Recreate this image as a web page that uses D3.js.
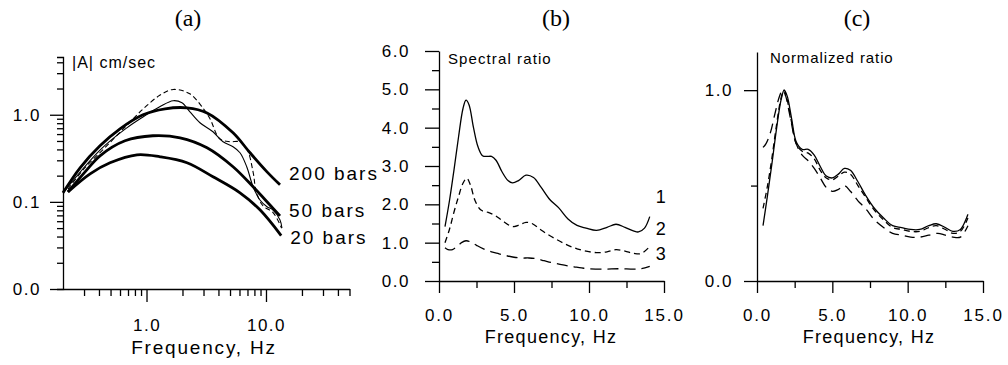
<!DOCTYPE html>
<html>
<head>
<meta charset="utf-8">
<script src="https://cdn.jsdelivr.net/npm/d3@7"></script>
<style>
  body { margin: 0; background: #fff; }
  svg { display: block; background: #fff; }
  text { font-family: "Liberation Sans", Arial, Helvetica, sans-serif; fill: #000; }
</style>
</head>
<body>
<svg id="chart" width="1008" height="365"></svg>
<script>
// ---------- data ----------
// (a) amplitude spectra: [frequency Hz, |A| cm/sec]
const observed = [[0.2,0.127],[0.41,0.396],[0.68,0.703],[0.94,0.948],[1.3,1.24],[1.67,1.45],[1.98,1.37],[2.31,1.08],[2.8,0.81],[3.6,0.638],[4.37,0.49],[5.3,0.429],[6.06,0.366],[6.9,0.253],[7.8,0.149],[8.9,0.105],[10.2,0.088],[11.4,0.081],[13.1,0.062],[13.6,0.05]];
const observedAlt = [[0.22,0.14],[0.3,0.24],[0.45,0.42],[0.68,0.75],[0.94,1.17],[1.29,1.67],[1.67,1.95],[2.3,1.74],[3.0,1.17],[3.4,0.9],[4.1,0.53],[5.0,0.49],[6.0,0.49],[6.9,0.41],[7.8,0.22],[8.3,0.13],[9.45,0.09],[11.5,0.075],[13.5,0.05]];
const model200 = [[0.2,0.127],[0.278,0.246],[0.408,0.44],[0.6,0.69],[0.935,1.0],[1.43,1.17],[2.18,1.2],[3.21,1.05],[5.3,0.62],[7.35,0.366],[10.2,0.221],[13.1,0.157]];
const model50 = [[0.22,0.13],[0.306,0.221],[0.408,0.338],[0.661,0.503],[1.13,0.574],[1.91,0.544],[3.21,0.418],[5.3,0.253],[7.8,0.149],[10.8,0.092],[13.1,0.069]];
const model20 = [[0.22,0.13],[0.337,0.21],[0.495,0.281],[0.833,0.347],[1.3,0.329],[2.18,0.281],[3.6,0.194],[6.06,0.127],[8.9,0.081],[13.4,0.041]];
const modelNames = ["200 bars", "50 bars", "20 bars"];

// (b) spectral ratios: [frequency Hz, ratio]
const ratio1 = [[0.4,1.42],[0.7,2.1],[1.0,2.9],[1.3,3.75],[1.6,4.5],[1.8,4.72],[2.0,4.6],[2.3,4.0],[2.6,3.5],[2.9,3.27],[3.2,3.25],[3.5,3.25],[3.8,3.15],[4.2,2.85],[4.6,2.62],[4.9,2.56],[5.3,2.62],[5.8,2.76],[6.3,2.7],[6.8,2.45],[7.4,2.12],[8.0,1.9],[8.6,1.62],[9.2,1.45],[9.8,1.38],[10.5,1.32],[11.2,1.4],[11.8,1.48],[12.4,1.4],[13.0,1.3],[13.3,1.28],[13.7,1.38],[14.05,1.68]];
const ratio2 = [[0.4,1.0],[0.7,1.35],[1.0,1.8],[1.3,2.2],[1.6,2.55],[1.85,2.68],[2.1,2.5],[2.4,2.1],[2.8,1.85],[3.2,1.8],[3.7,1.72],[4.2,1.58],[4.7,1.45],[5.0,1.42],[5.4,1.47],[5.8,1.53],[6.2,1.5],[6.8,1.33],[7.4,1.18],[8.0,1.05],[8.6,0.93],[9.2,0.84],[9.8,0.78],[10.5,0.74],[11.2,0.76],[11.8,0.82],[12.4,0.78],[13.0,0.72],[13.5,0.72],[14.05,0.9]];
const ratio3 = [[0.4,0.87],[0.6,0.82],[0.9,0.82],[1.2,0.9],[1.5,1.0],[1.8,1.05],[2.1,1.02],[2.5,0.93],[3.0,0.83],[3.5,0.76],[4.0,0.71],[4.5,0.66],[5.0,0.62],[5.5,0.6],[6.0,0.6],[6.5,0.58],[7.0,0.53],[7.5,0.48],[8.0,0.44],[8.5,0.4],[9.0,0.37],[9.5,0.34],[10.0,0.32],[11.0,0.31],[12.0,0.32],[13.0,0.31],[13.5,0.32],[14.05,0.38]];
const ratioNames = ["1", "2", "3"];

// (c) normalized ratios: [frequency Hz, ratio / peak]
const norm1 = [[0.4,0.29],[0.7,0.45],[1.0,0.62],[1.3,0.8],[1.6,0.95],[1.8,1.0],[2.0,0.97],[2.3,0.85],[2.6,0.73],[3.0,0.69],[3.4,0.69],[3.8,0.66],[4.2,0.6],[4.6,0.55],[5.0,0.54],[5.4,0.56],[5.8,0.59],[6.2,0.58],[6.7,0.52],[7.2,0.45],[7.8,0.38],[8.4,0.33],[9.0,0.29],[9.6,0.28],[10.2,0.27],[10.8,0.27],[11.4,0.29],[11.9,0.3],[12.5,0.28],[13.0,0.26],[13.5,0.27],[14.0,0.35]];
const norm2 = [[0.4,0.38],[0.7,0.5],[1.0,0.65],[1.3,0.82],[1.6,0.96],[1.8,1.0],[2.0,0.95],[2.3,0.83],[2.6,0.72],[3.0,0.68],[3.4,0.67],[3.8,0.64],[4.2,0.58],[4.6,0.54],[5.0,0.53],[5.4,0.55],[5.8,0.57],[6.2,0.56],[6.7,0.5],[7.2,0.44],[7.8,0.37],[8.4,0.32],[9.0,0.28],[9.6,0.27],[10.2,0.26],[10.8,0.26],[11.4,0.28],[11.9,0.29],[12.5,0.27],[13.0,0.25],[13.5,0.26],[14.0,0.33]];
const norm3 = [[0.4,0.7],[0.6,0.72],[0.9,0.78],[1.2,0.88],[1.5,0.97],[1.7,1.0],[1.9,0.97],[2.2,0.86],[2.6,0.72],[3.0,0.66],[3.4,0.63],[3.8,0.59],[4.2,0.54],[4.6,0.49],[5.0,0.47],[5.4,0.48],[5.8,0.5],[6.2,0.47],[6.7,0.42],[7.2,0.38],[7.8,0.32],[8.4,0.28],[9.0,0.25],[9.6,0.24],[10.2,0.23],[10.8,0.23],[11.4,0.24],[12.0,0.25],[12.5,0.24],[13.0,0.23],[13.5,0.23],[14.0,0.29]];

// tick values and labels
const ticksAxMajor = [1, 10], ticksAxLabels = ["1.0", "10.0"];
const ticksAxMinor = [0.3,0.4,0.5,0.6,0.7,0.8,0.9,2,3,4,5,6,7,8,9,20,30,40,50];
const ticksAyMajor = [0.01, 0.1, 1], ticksAyLabels = ["0.0", "0.1", "1.0"];
const ticksAyMinor = [0.02,0.03,0.04,0.05,0.06,0.07,0.08,0.09,0.2,0.3,0.4,0.5,0.6,0.7,0.8,0.9,2,3,4];
const ticksFreq = [0, 5, 10, 15], ticksFreqMinor = [2.5, 7.5, 12.5];
const ticksByMajor = [0, 1, 2, 3, 4, 5, 6], ticksByMinor = [0.5, 1.5, 2.5, 3.5, 4.5, 5.5];
const ticksCyMajor = [0, 1], ticksCyMinor = [0.5];

// ---------- drawing ----------
const svg = d3.select("#chart");
const fmt1 = d3.format(".1f");
const serif = "'Liberation Serif', 'Times New Roman', serif";

function styleAxis(g, size, spacing) {
    g.attr("font-family", null).attr("font-size", null);
    g.selectAll("path, line").attr("stroke", "#000").attr("stroke-width", 1.3);
    g.selectAll("text").style("font-size", size + "px").style("letter-spacing", spacing + "px");
}

function drawLine(x, y, data, width, dash) {
    svg.append("path")
        .datum(data)
        .attr("fill", "none")
        .attr("stroke", "#000")
        .attr("stroke-width", width)
        .attr("stroke-dasharray", dash || null)
        .attr("stroke-linejoin", "round")
        .attr("d", d3.line().x(d => x(d[0])).y(d => y(d[1])).curve(d3.curveCatmullRom.alpha(0.5)));
}

function label(x, y, txt, opts) {
    return svg.append("text")
        .attr("x", x).attr("y", y).attr("dy", "0.35em")
        .attr("text-anchor", opts.anchor || "start")
        .style("font-size", opts.size + "px")
        .style("letter-spacing", (opts.spacing || 0) + "px")
        .style("font-family", opts.family || null)
        .text(txt);
}

// ===== panel (a) =====
const xA = d3.scaleLog().domain([0.2, 50]).range([63, 349.5]);
const yA = d3.scaleLog().domain([0.01, 4.6]).range([289, 57]);

svg.append("g").attr("transform", "translate(0,289)")
    .call(d3.axisBottom(xA).tickValues(ticksAxMinor).tickSize(7).tickSizeOuter(0).tickFormat(""))
    .call(g => styleAxis(g, 17, 1.5));
svg.append("g").attr("transform", "translate(0,289)")
    .call(d3.axisBottom(xA).tickValues(ticksAxMajor).tickSize(13).tickSizeOuter(0).tickPadding(17)
        .tickFormat((d, i) => ticksAxLabels[i]))
    .call(g => g.select(".domain").remove())
    .call(g => styleAxis(g, 17, 1.5));
svg.append("g").attr("transform", "translate(63,0)")
    .call(d3.axisLeft(yA).tickValues(ticksAyMinor).tickSize(6).tickSizeOuter(6).tickFormat(""))
    .call(g => styleAxis(g, 17, 1.5));
svg.append("g").attr("transform", "translate(63,0)")
    .call(d3.axisLeft(yA).tickValues(ticksAyMajor).tickSize(13).tickPadding(9)
        .tickFormat((d, i) => ticksAyLabels[i]))
    .call(g => g.select(".domain").remove())
    .call(g => styleAxis(g, 17, 1.5));

drawLine(xA, yA, model200, 2.8);
drawLine(xA, yA, model50, 2.8);
drawLine(xA, yA, model20, 2.8);
drawLine(xA, yA, observed, 1.1);
drawLine(xA, yA, observedAlt, 1.1, "5,3");

const lastA = [model200, model50, model20].map(s => s[s.length - 1]);
const labelOffsetA = [-11, -6, 2];
modelNames.forEach((n, i) => {
    label(xA(lastA[i][0]) + 9, yA(lastA[i][1]) + labelOffsetA[i], n, { size: 19, spacing: 2 });
});

label(72, 62, "|A| cm/sec", { size: 16, spacing: 1 });
label(188, 18, "(a)", { size: 24, anchor: "middle", family: serif });
label(204, 347, "Frequency, Hz", { size: 19, spacing: 1.8, anchor: "middle" });

// ===== panel (b) =====
const xB = d3.scaleLinear().domain([0, 15]).range([439, 664]);
const yB = d3.scaleLinear().domain([0, 6]).range([281, 51]);

function freqAxis(x, y0) {
    svg.append("g").attr("transform", `translate(0,${y0})`)
        .call(d3.axisBottom(x).tickValues(ticksFreqMinor).tickSize(7).tickSizeOuter(0).tickFormat(""))
        .call(g => styleAxis(g, 17, 1.5));
    svg.append("g").attr("transform", `translate(0,${y0})`)
        .call(d3.axisBottom(x).tickValues(ticksFreq).tickSize(12).tickPadding(16).tickFormat(fmt1))
        .call(g => g.select(".domain").remove())
        .call(g => styleAxis(g, 17, 1.8));
}

freqAxis(xB, 281);
svg.append("g").attr("transform", "translate(439,0)")
    .call(d3.axisLeft(yB).tickValues(ticksByMinor).tickSize(7).tickSizeOuter(0).tickFormat(""))
    .call(g => styleAxis(g, 17, 1.5));
svg.append("g").attr("transform", "translate(439,0)")
    .call(d3.axisLeft(yB).tickValues(ticksByMajor).tickSize(14).tickPadding(15).tickFormat(fmt1))
    .call(g => g.select(".domain").remove())
    .call(g => styleAxis(g, 17, 1.5));

drawLine(xB, yB, ratio1, 1.3);
drawLine(xB, yB, ratio2, 1.3, "6,4");
drawLine(xB, yB, ratio3, 1.3, "11,6");

const labelOffsetB = [-19.5, -17.5, -13];
[ratio1, ratio2, ratio3].forEach((s, i) => {
    const p = s[s.length - 1];
    label(xB(p[0]) + 11, yB(p[1]) + labelOffsetB[i], ratioNames[i], { size: 18, anchor: "middle" });
});

label(448, 59, "Spectral ratio", { size: 15, spacing: 1.1 });
label(556, 18, "(b)", { size: 24, anchor: "middle", family: serif });
label(551, 337, "Frequency, Hz", { size: 18, spacing: 1.3, anchor: "middle" });

// ===== panel (c) =====
const xC = d3.scaleLinear().domain([0, 15]).range([757, 983]);
const yC = d3.scaleLinear().domain([0, 1.2]).range([281, 52]);

freqAxis(xC, 281);
svg.append("g").attr("transform", "translate(757,0)")
    .call(d3.axisLeft(yC).tickValues(ticksCyMinor).tickSize(6).tickSizeOuter(0).tickFormat(""))
    .call(g => styleAxis(g, 17, 1.5));
svg.append("g").attr("transform", "translate(757,0)")
    .call(d3.axisLeft(yC).tickValues(ticksCyMajor).tickSize(13).tickPadding(11).tickFormat(fmt1))
    .call(g => g.select(".domain").remove())
    .call(g => styleAxis(g, 17, 1.5));

drawLine(xC, yC, norm1, 1.3);
drawLine(xC, yC, norm2, 1.3, "6,4");
drawLine(xC, yC, norm3, 1.3, "10,6");

label(770, 58, "Normalized ratio", { size: 15, spacing: 0.9 });
label(857, 18, "(c)", { size: 24, anchor: "middle", family: serif });
label(869, 337, "Frequency, Hz", { size: 18, spacing: 1.3, anchor: "middle" });
</script>
</body>
</html>
